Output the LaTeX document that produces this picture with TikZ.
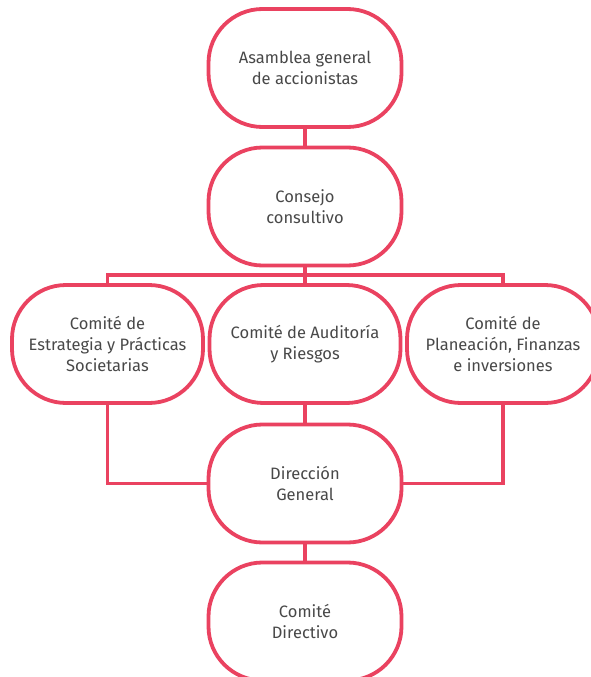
\documentclass[tikz,border=0pt]{standalone}
\usepackage{fontspec}
\setmainfont{Fira Sans}
\definecolor{orgred}{RGB}{234,66,96}
\definecolor{orgtext}{RGB}{72,72,72}
\begin{document}
\begin{tikzpicture}[x=1pt,y=1pt,
  orgbox/.style={draw=orgred, line width=3.8pt, rounded corners=54pt, fill=white,
    minimum width=193pt, minimum height=118pt, align=center, text=orgtext,
    font=\fontsize{16.5}{21}\selectfont, inner sep=1pt},
  orgline/.style={draw=orgred, line width=3.8pt}]
\useasboundingbox (0,0) rectangle (591,-677);
\clip (0,0) rectangle (591,-677);
\node[orgbox] (A) at (305,-68) {Asamblea general\\de accionistas};
\node[orgbox] (B) at (305,-206.5) {Consejo\\consultivo};
\node[orgbox, minimum width=191pt] (L) at (107.5,-344) {Comité de\\Estrategia y Prácticas\\Societarias};
\node[orgbox, minimum width=191pt] (M) at (305,-344) {Comité de Auditoría\\y Riesgos};
\node[orgbox, minimum width=192pt] (R) at (503,-344) {Comité de\\Planeación, Finanzas\\e inversiones};
\node[orgbox] (D) at (305,-483.5) {Dirección\\General};
\node[orgbox] (C) at (305,-621.5) {Comité\\Directivo};
\coordinate (busL) at (107.5,-275);
\coordinate (busR) at (503,-275);
\draw[orgline] (A.south) -- (B.north);
\draw[orgline] (B.south) -- (M.north);
\draw[orgline] (L.north) -- (busL) -- (busR) -- (R.north);
\draw[orgline] (L.south) |- (D.west);
\draw[orgline] (R.south) |- (D.east);
\draw[orgline] (M.south) -- (D.north);
\draw[orgline] (D.south) -- (C.north);
\end{tikzpicture}
\end{document}
